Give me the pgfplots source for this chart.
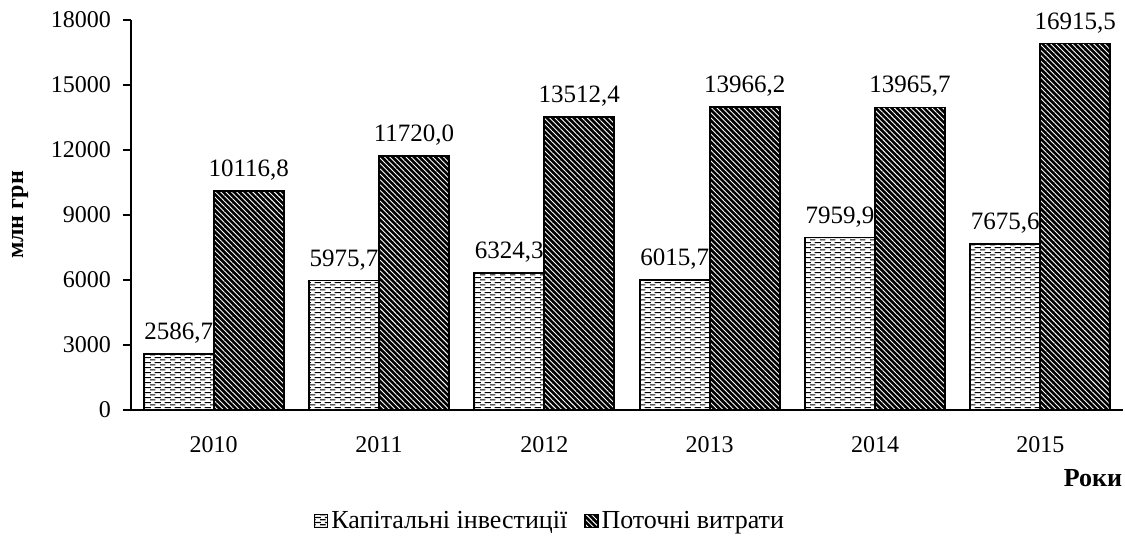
\documentclass[border=0pt]{standalone}
\usepackage{fontspec}
\setmainfont{Liberation Serif}
\usepackage{pgfplots}
\pgfplotsset{compat=1.18}
\usetikzlibrary{patterns,patterns.meta}

\tikzdeclarepattern{
  name=hdash,
  type=colored,
  bounding box={(0pt,0pt) and (5pt,2.6pt)},
  tile size={(5pt,2.6pt)},
  code={
    \fill[black] (0pt,0.4pt) rectangle (3pt,1pt);
    \fill[black] (2.5pt,1.7pt) rectangle (5pt,2.3pt);
    \fill[black] (0pt,1.7pt) rectangle (0.5pt,2.3pt);
  }
}

\newcommand{\tickfont}{\rmfamily\mdseries\fontsize{12}{14}\selectfont}
\newcommand{\datafont}{\rmfamily\mdseries\fontsize{12.5}{15}\selectfont}
\newcommand{\lblfont}{\rmfamily\fontsize{13}{15}\selectfont}

\begin{document}
\begin{tikzpicture}
\path[use as bounding box] (-65.5pt,-65.5pt) rectangle (497pt,205pt);
\begin{axis}[
  at={(0pt,0pt)}, anchor=south west,
  scale only axis, width=496pt, height=195pt,
  ymin=0, ymax=18000, ytick={0,3000,...,18000},
  scaled y ticks=false,
  xmin=-0.5, xmax=5.5, xtick={0,...,5},
  xticklabels={2010,2011,2012,2013,2014,2015},
  axis x line=bottom, axis y line=left,
  axis line style={-, line width=0.6pt, black},
  x tick style={draw=none},
  y tick style={line width=0.6pt, black},
  tick align=outside, major tick length=4pt,
  tick label style={font=\tickfont},
  xticklabel style={yshift=-5.5pt},
  yticklabel style={xshift=-2.5pt},
  /pgf/number format/assume math mode=true,
  /pgf/number format/1000 sep={},
  ybar=0pt, bar width=35pt,
  nodes near coords={\pgfmathprintnumber[fixed,fixed zerofill,precision=1,use comma,1000 sep={}]{\pgfplotspointmeta}},
  every node near coord/.append style={font=\datafont, anchor=south, yshift=1.5pt, black},
  legend style={at={(0.423,-0.285)}, anchor=center, draw=none, font=\lblfont,
    legend columns=2, /tikz/every even column/.append style={column sep=7pt},
    /tikz/every odd column/.append style={column sep=0pt},
    nodes={inner xsep=1.5pt}},
  legend image code/.code={\draw[#1, line width=0.6pt] (0pt,-3pt) rectangle (6.5pt,3.5pt);},
]
\addplot[draw=black, line width=0.9pt, fill=white, postaction={pattern=hdash}]
  coordinates {(0,2586.7) (1,5975.7) (2,6324.3) (3,6015.7) (4,7959.9) (5,7675.6)};
\addplot[draw=black, line width=0.9pt, fill=black, postaction={pattern={Lines[angle=-45,distance=1.9pt,line width=0.45pt]}, pattern color=white}]
  coordinates {(0,10116.8) (1,11720.0) (2,13512.4) (3,13966.2) (4,13965.7) (5,16915.5)};
\legend{Капітальні інвестиції, Поточні витрати}
\end{axis}
\node[rotate=90, font=\bfseries\fontsize{12}{14}\selectfont] at (-55.5pt,97.5pt) {млн грн};
\node[font=\bfseries\fontsize{13}{15}\selectfont] at (481pt,-34pt) {Роки};
\end{tikzpicture}
\end{document}
